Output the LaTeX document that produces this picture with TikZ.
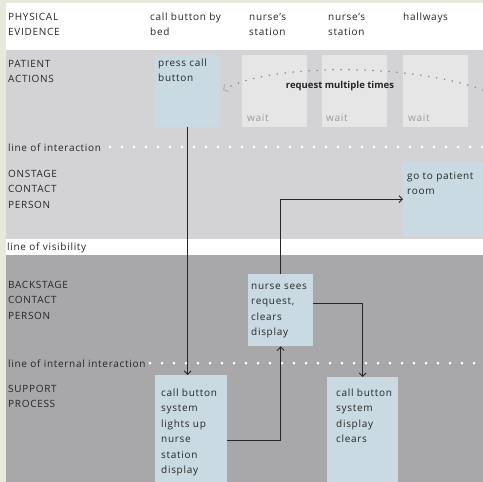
\documentclass[tikz,border=0pt]{standalone}
\usepackage{fontspec}
\setmainfont[LetterSpace=7]{Open Sans}
\usetikzlibrary{arrows.meta}
\definecolor{beige}{HTML}{E8E9DA}
\definecolor{lgray}{HTML}{D3D3D5}
\definecolor{dgray}{HTML}{A8A8AA}
\definecolor{waitbox}{HTML}{E6E6E7}
\definecolor{boxblue}{HTML}{C9DAE3}
\definecolor{ink}{HTML}{262626}
\definecolor{waitink}{HTML}{9A9A9A}
\definecolor{arcink}{HTML}{8C8C8C}
\newcommand\lines[1]{\vtop{\let\\\cr\halign{##\hfil\cr#1\crcr}}}
\begin{document}
\begin{tikzpicture}[x=1pt,y=-1pt,
  txt/.style={anchor=base west, inner sep=0pt, text=ink, font=\fontsize{10}{15.5}\selectfont},
  box/.style={fill=boxblue, inner sep=0pt, anchor=north west},
  waitbx/.style={fill=waitbox, inner sep=0pt, anchor=north west, minimum width=65pt, minimum height=72pt},
  conn/.style={draw=ink, line width=0.9pt, -{Straight Barb[length=3.5pt,width=7pt,line width=0.9pt]}},
  dotline/.style={draw=white, line width=3pt, line cap=round, dash pattern=on 0pt off 12pt},
  arcdots/.style={draw=arcink, line width=1.8pt, line cap=round, dash pattern=on 0pt off 8pt,
     -{Straight Barb[length=3.5pt,width=8pt,line width=1pt,color=arcink!70]}}]
\useasboundingbox (0,0) rectangle (483,482);
% bands
\fill[beige] (0,0) rectangle (483,482);
\fill[white] (6,3) rectangle (483,50);
\fill[lgray] (6,50) rectangle (483,239);
\fill[white] (6,239) rectangle (483,255);
\fill[dgray] (6,255) rectangle (483,482);
% boxes
\node[box, minimum width=65pt, minimum height=72pt] (press) at (155,55) {};
\node[waitbx] (w1) at (242,55) {};
\node[waitbx] (w2) at (322,55) {};
\node[waitbx] (w3) at (403,55) {};
\node[box, minimum width=80pt, minimum height=74pt] (go) at (403,162) {};
\node[box, minimum width=65pt, minimum height=72pt] (nurse) at (248,274) {};
\node[box, minimum width=72pt, minimum height=110pt] (lights) at (155,375) {};
\node[box, minimum width=71pt, minimum height=108pt] (clears) at (327,377) {};
% dotted lines
\draw[dotline] (110,147) -- (483,147);
\draw[dotline] (150,363) -- (483,363);
% texts
\node[txt] (pe) at (8,20) {\lines{PHYSICAL\\EVIDENCE}};
\node[txt] (c1) at (150,20) {\lines{call button by\\bed}};
\node[txt] (c2) at (249,20) {\lines{nurse's\\station}};
\node[txt] (c3) at (328,20) {\lines{nurse's\\station}};
\node[txt] (c4) at (403,20) {hallways};
\node[txt] (pa) at (8,67) {\lines{PATIENT\\ACTIONS}};
\node[txt] (presst) at (158,66) {\lines{press call\\button}};
\node[txt, text=waitink] (wt1) at (247,121) {wait};
\node[txt, text=waitink] (wt2) at (326,121) {wait};
\node[txt, text=waitink] (wt3) at (408,121) {wait};
\node[txt, anchor=base, font=\fontsize{9.5}{15.5}\selectfont\bfseries\addfontfeature{LetterSpace=0}] (req) at (340,88) {request multiple times};
\node[txt] (loi) at (8,151) {line of interaction};
\node[txt] (on) at (8,177) {\lines{ONSTAGE\\CONTACT\\PERSON}};
\node[txt] (got) at (407,179) {\lines{go to patient\\room}};
\node[txt] (lov) at (7,250) {line of visibility};
\node[txt] (back) at (8,288) {\lines{BACKSTAGE\\CONTACT\\PERSON}};
\node[txt] (nurset) at (251,289) {\lines{nurse sees\\request,\\clears\\display}};
\node[txt] (lii) at (8,367) {line of internal interaction};
\node[txt] (sup) at (8,392) {\lines{SUPPORT\\PROCESS}};
\node[txt] (lightst) at (161,396) {\lines{call button\\system\\lights up\\nurse\\station\\display}};
\node[txt] (clearst) at (336,396) {\lines{call button\\system\\display\\clears}};
% connectors
\draw[conn] (press.south) -- (press.south |- lights.north);
\draw[conn] (lights.east |- 0,440) -| (nurse.south);
\draw[conn] (nurse.north) |- (go.west);
\draw[conn] (nurse.east |- 0,303) -| (clears.north);
% repeat arc
\coordinate (arcstart) at (483,90);
\coordinate (arcend) at (223,90);
\draw[arcdots] (arcstart) .. controls (410,63) and (270,63) .. (arcend);
\end{tikzpicture}
\end{document}
